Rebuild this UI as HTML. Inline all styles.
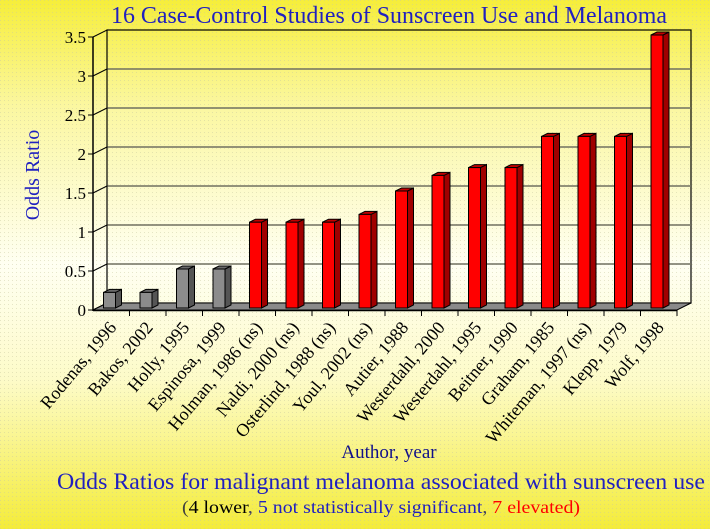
<!DOCTYPE html>
<html><head><meta charset="utf-8"><style>
html,body{margin:0;padding:0;}
body{width:710px;height:529px;overflow:hidden;background:linear-gradient(to bottom,#f6ee3a 0%,#fbf7a0 20%,#fffff2 50%,#fdfbc8 72%,#f4ec3a 100%);font-family:"Liberation Serif",serif;}
svg{position:absolute;left:0;top:0;}
</style></head><body>
<svg width="710" height="529" viewBox="0 0 710 529" xmlns="http://www.w3.org/2000/svg" font-family="Liberation Serif, serif">
<defs>
<pattern id="dots" width="4" height="4" patternUnits="userSpaceOnUse"><rect x="0" y="0" width="1" height="1" fill="#c8c8a0" opacity="0.45"/></pattern>
</defs>
<rect width="710" height="529" fill="url(#dots)"/>
<text x="389" y="23" font-size="24" fill="#2020c0" text-anchor="middle" textLength="556" lengthAdjust="spacingAndGlyphs">16 Case-Control Studies of Sunscreen Use and Melanoma</text>
<rect x="107" y="30" width="584" height="273" fill="none" stroke="#000" stroke-width="1.2"/>
<g stroke="#707060" stroke-width="1.5">
<line x1="107" y1="264" x2="691" y2="264"/>
<line x1="107" y1="225" x2="691" y2="225"/>
<line x1="107" y1="186" x2="691" y2="186"/>
<line x1="107" y1="147" x2="691" y2="147"/>
<line x1="107" y1="108" x2="691" y2="108"/>
<line x1="107" y1="69" x2="691" y2="69"/>
</g>
<polygon points="93,37 107,30 107,303 93,310" fill="none" stroke="#000" stroke-width="1"/>
<g stroke="#000" stroke-width="1">
<line x1="93" y1="271" x2="107" y2="264"/><line x1="93" y1="232" x2="107" y2="225"/><line x1="93" y1="193" x2="107" y2="186"/><line x1="93" y1="154" x2="107" y2="147"/><line x1="93" y1="115" x2="107" y2="108"/><line x1="93" y1="76" x2="107" y2="69"/>
</g>
<polygon points="93,310 107,303 691,303 677,310" fill="#8a8a8a" stroke="#000" stroke-width="1"/>
<line x1="93" y1="37" x2="93" y2="311" stroke="#000" stroke-width="1.5"/>
<line x1="93" y1="310.5" x2="677" y2="310.5" stroke="#000" stroke-width="1.5"/>
<g stroke="#000" stroke-width="1">
<line x1="88" y1="310" x2="93" y2="310"/><line x1="88" y1="271" x2="93" y2="271"/><line x1="88" y1="232" x2="93" y2="232"/><line x1="88" y1="193" x2="93" y2="193"/><line x1="88" y1="154" x2="93" y2="154"/><line x1="88" y1="115" x2="93" y2="115"/><line x1="88" y1="76" x2="93" y2="76"/><line x1="88" y1="37" x2="93" y2="37"/>
</g>
<g font-size="17" text-anchor="end" fill="#000">
<text x="86" y="316">0</text><text x="86" y="277">0.5</text><text x="86" y="238">1</text><text x="86" y="199">1.5</text><text x="86" y="160">2</text><text x="86" y="121">2.5</text><text x="86" y="82">3</text><text x="86" y="43">3.5</text>
</g>
<text transform="translate(39,175) rotate(-90)" font-size="20" fill="#2020c0" text-anchor="middle">Odds Ratio</text>
<g id="bars"></g>
<g id="labels" font-size="18" fill="#000" text-anchor="end"></g>
<text x="389" y="458" font-size="19" fill="#10108a" text-anchor="middle">Author, year</text>
<text x="381" y="489" font-size="23" fill="#2020c0" text-anchor="middle" textLength="648" lengthAdjust="spacingAndGlyphs">Odds Ratios for malignant melanoma associated with sunscreen use</text>
<text x="381" y="513" font-size="18" text-anchor="middle" textLength="398" lengthAdjust="spacingAndGlyphs"><tspan fill="#404040">(</tspan><tspan fill="#000">4 lower</tspan><tspan fill="#404060">, </tspan><tspan fill="#2020c0">5 not statistically significant</tspan><tspan fill="#404060">, </tspan><tspan fill="#ff0000">7 elevated)</tspan></text>
</svg>
<script>
(function(){
var vals=[0.2,0.2,0.5,0.5,1.1,1.1,1.1,1.2,1.5,1.7,1.8,1.8,2.2,2.2,2.2,3.5];
var names=["Rodenas, 1996","Bakos, 2002","Holly, 1995","Espinosa, 1999","Holman, 1986 (ns)","Naldi, 2000 (ns)","Osterlind, 1988 (ns)","Youl, 2002 (ns)","Autier, 1988","Westerdahl, 2000","Westerdahl, 1995","Beitner, 1990","Graham, 1985","Whiteman, 1997 (ns)","Klepp, 1979","Wolf, 1998"];
var NS="http://www.w3.org/2000/svg";var b=document.getElementById("bars"),l=document.getElementById("labels"),s=document.querySelector("svg");
function el(p,t,a){var e=document.createElementNS(NS,t);for(var k in a)e.setAttribute(k,a[k]);p.appendChild(e);return e;}
var step=36.5;
for(var i=0;i<16;i++){var x0=93+i*step+10.5,w=12,bot=308,yt=bot-vals[i]*78,red=i>=4;
var f=red?"#ff0000":"#8c8c8c",sd=red?"#a00000":"#555",tp=red?"#c00000":"#6a6a6a";
el(b,"polygon",{points:(x0+w)+","+bot+" "+(x0+w+6)+","+(bot-3)+" "+(x0+w+6)+","+(yt-3)+" "+(x0+w)+","+yt,fill:sd,stroke:"#000","stroke-width":1});
el(b,"polygon",{points:x0+","+yt+" "+(x0+6)+","+(yt-3)+" "+(x0+w+6)+","+(yt-3)+" "+(x0+w)+","+yt,fill:tp,stroke:"#000","stroke-width":1});
el(b,"rect",{x:x0,y:yt,width:w,height:bot-yt,fill:f,stroke:"#000","stroke-width":1});
var tx=93+(i+1)*step;el(s,"line",{x1:tx,y1:310,x2:tx,y2:316,stroke:"#000","stroke-width":1});
var cx=93+i*step+step/2+6;var t=el(l,"text",{transform:"translate("+cx+",328) rotate(-50)"});t.textContent=names[i];}
})();
</script>
</body></html>
